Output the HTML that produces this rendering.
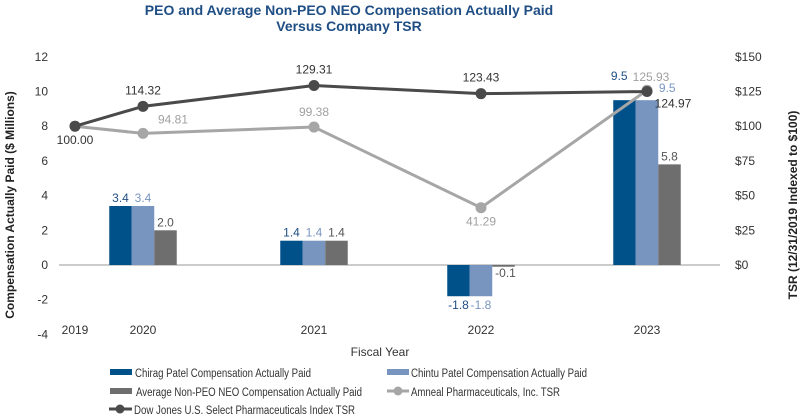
<!DOCTYPE html>
<html><head><meta charset="utf-8"><style>
body{margin:0;background:#fff;}
svg{display:block;font-family:"Liberation Sans",Arial,sans-serif;}
</style></head><body>
<svg id="c" width="800" height="418" viewBox="0 0 800 418">
<text x="349" y="15" text-anchor="middle" font-size="14" font-weight="bold" fill="#1f4e84">PEO and Average Non-PEO NEO Compensation Actually Paid</text>
<text x="349" y="31" text-anchor="middle" font-size="14" font-weight="bold" fill="#1f4e84">Versus Company TSR</text>
<g id="plot"></g>
<text transform="translate(14,205) rotate(-90)" text-anchor="middle" font-size="12" font-weight="bold" fill="#222">Compensation Actually Paid ($  Millions)</text>
<text transform="translate(797,205) rotate(-90)" text-anchor="middle" font-size="12" font-weight="bold" fill="#222">TSR (12/31/2019 Indexed to $100)</text>
<text x="380" y="356" text-anchor="middle" font-size="12" fill="#333">Fiscal Year</text>
<g id="legend" font-size="11.5" fill="#333">
<g><rect x="110" y="369" width="22" height="6" fill="#00508a"/><text x="135" y="377" textLength="176" lengthAdjust="spacingAndGlyphs">Chirag Patel Compensation Actually Paid</text></g>
<g><rect x="387" y="369" width="22" height="6" fill="#7895c0"/><text x="411" y="377" textLength="176" lengthAdjust="spacingAndGlyphs">Chintu Patel Compensation Actually Paid</text></g>
<g><rect x="110" y="388" width="22" height="6" fill="#6e6e6e"/><text x="136" y="396" textLength="226" lengthAdjust="spacingAndGlyphs">Average Non-PEO NEO Compensation Actually Paid</text></g>
<g><line x1="387" y1="391" x2="409" y2="391" stroke="#a6a6a6" stroke-width="3"/><circle cx="398" cy="391" r="4.5" fill="#a6a6a6"/><text x="411" y="396" textLength="149" lengthAdjust="spacingAndGlyphs">Amneal Pharmaceuticals, Inc. TSR</text></g>
<g><line x1="109" y1="409" x2="132" y2="409" stroke="#4a4a4a" stroke-width="3"/><circle cx="120" cy="409" r="4.5" fill="#4a4a4a"/><text x="134" y="414" textLength="221" lengthAdjust="spacingAndGlyphs">Dow Jones U.S. Select Pharmaceuticals Index TSR</text></g>
</g>
</svg>
<script>
const years = ["2019","2020","2021","2022","2023"];
const barYears = ["2020","2021","2022","2023"];
const chirag = [3.4, 1.4, -1.8, 9.5];
const chintu = [3.4, 1.4, -1.8, 9.5];
const nonPeo = [2.0, 1.4, -0.1, 5.8];
const amneal = [100.00, 94.81, 99.38, 41.29, 125.93];
const dow = [100.00, 114.32, 129.31, 123.43, 124.97];
const leftTicks = [12,10,8,6,4,2,0,-2,-4];
const rightTicks = [150,125,100,75,50,25,0];

const NS="http://www.w3.org/2000/svg";
const plot=document.getElementById('plot');
const xPos={"2019":75,"2020":143,"2021":314,"2022":481,"2023":647};
const y0=265, pxPerUnit=17.35;
const yL=v=>y0-v*pxPerUnit;
const yR=v=>yL(v/12.5);
function mk(tag,attrs,txt){const e=document.createElementNS(NS,tag);for(const k in attrs)e.setAttribute(k,attrs[k]);if(txt!==undefined)e.textContent=txt;plot.appendChild(e);return e;}

leftTicks.forEach(t=>{
  const e=mk('text',{x:48,y:yL(t)+4,'text-anchor':'end','font-size':12,fill:'#333'},String(t));
  
  
});
rightTicks.forEach(t=>{
  const e=mk('text',{x:735,y:yR(t)+4,'font-size':12,fill:'#333'},'$'+t);
  
  
});
years.forEach(y=>{
  const e=mk('text',{x:xPos[y],y:334,'text-anchor':'middle','font-size':12,fill:'#333'},y);
  
  
});
const zl=mk('line',{x1:59,x2:720,y1:y0,y2:y0,stroke:'#999','stroke-width':1});



const bw=22.5;
const series=[[chirag,'#00508a','#1f4e84'],[chintu,'#7895c0','#7895c0'],[nonPeo,'#6e6e6e','#555']];
barYears.forEach((y,i)=>{
  series.forEach((s,j)=>{
    const v=s[0][i];
    const x=xPos[y]-1.5*bw+j*bw;
    const top=Math.min(yL(v),y0), h=Math.max(Math.abs(yL(v)-y0),1);
    const r=mk('rect',{x:x,y:top,width:bw,height:h,fill:s[1]});
    
    
    let ly = v>=0 ? yL(v)-4 : yL(v)+13;
    let lx = x+bw/2;
    if(v<0 && v>-0.5){ly=y0+12; lx=x+bw/2+2;}
    if(y==="2023" && j<2){ ly = j==0? 80:92; lx = j==0? x+6 : x+bw+9; }
    const t=mk('text',{x:lx,y:ly,'text-anchor':'middle','font-size':12,fill:s[2]},v.toFixed(1));
    
    
  });
});

function line(vals,color,name,offs){
  const pts=years.map((y,i)=>xPos[y]+','+yR(vals[i])).join(' ');
  const p=mk('polyline',{points:pts,fill:'none',stroke:color,'stroke-width':3});
  
  
  years.forEach((y,i)=>{
    const c=mk('circle',{cx:xPos[y],cy:yR(vals[i]),r:5.5,fill:color});
    
    
    if(offs[i]){
      const t=mk('text',{x:xPos[y]+offs[i][0],y:yR(vals[i])+offs[i][1],'text-anchor':'middle','font-size':12,fill:name==='amneal'?'#a0a0a0':'#333'},vals[i].toFixed(2));
      
      
    }
  });
}
line(amneal,'#a6a6a6','amneal',[null,[30,-10],[0,-11],[0,18],[4,-9]]);
line(dow,'#4a4a4a','dow',[[0,18],[0,-12],[0,-12],[0,-12],[26,16]]);
</script>
</body></html>
